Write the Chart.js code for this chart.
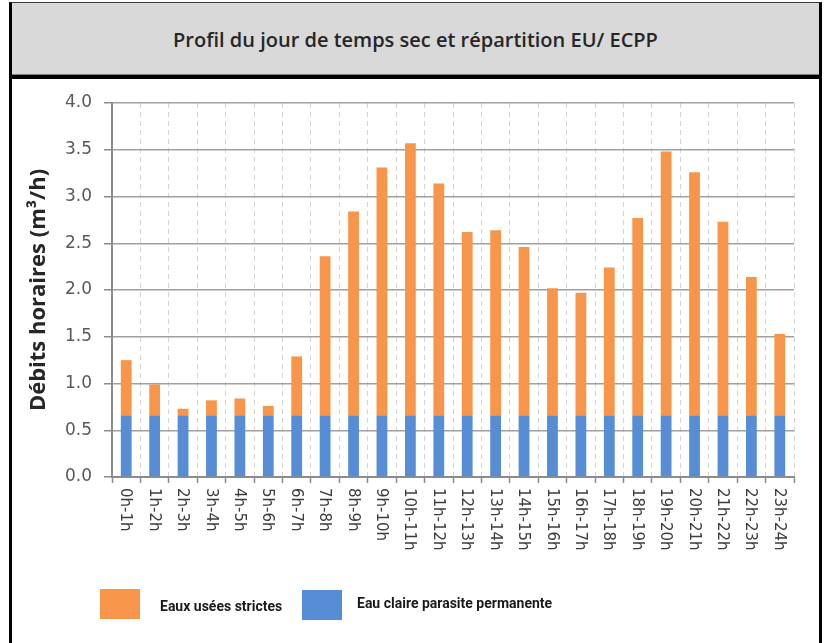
<!DOCTYPE html>
<html lang="fr">
<head>
<meta charset="utf-8">
<title>Profil du jour de temps sec</title>
<script src="https://cdn.jsdelivr.net/npm/chart.js@4.4.1/dist/chart.umd.min.js"></script>
<style>
  html, body { margin: 0; padding: 0; background: #fff; }
  body { width: 826px; height: 643px; position: relative; overflow: hidden; font-family: 'Open Sans', sans-serif; }
  #frame { position: absolute; left: 9px; top: 2px; width: 807px; height: 700px;
           border-left: 3px solid #000; border-right: 3px solid #000; border-top: 1px solid #3a3a3a; }
  #head { position: absolute; left: 0; top: 0; width: 807px; height: 71px; background: #d9d9d9;
          border-bottom: 1px solid #7f7f7f; text-align: center; line-height: 74px;
          font-size: 20px; font-weight: 600; color: #262626; }
  #band { position: absolute; left: 0; top: 72px; width: 807px; height: 4px; background: #000; }
  #wrap { position: absolute; left: 0; top: 76px; width: 807px; height: 564px; }
  .key { position: absolute; width: 40px; height: 30px; }
  .txt { position: absolute; font-family: Roboto, sans-serif; font-size: 14px; font-weight: 700;
         color: #1a1a1a; line-height: 20px; white-space: nowrap; }
</style>
</head>
<body>
<div id="frame">
  <div id="head">Profil du jour de temps sec et répartition EU/ ECPP</div>
  <div id="band"></div>
  <div id="wrap"><canvas id="profil" width="807" height="564"></canvas></div>
</div>
<div class="key" style="left:100px; top:589px; background:#f7964a;"></div>
<div class="txt" style="left:160px; top:596px;">Eaux usées strictes</div>
<div class="key" style="left:302px; top:590px; background:#568dd4;"></div>
<div class="txt" style="left:357px; top:593px;">Eau claire parasite permanente</div>

<script>
// tranches horaires
const hours = ['0h-1h', '1h-2h', '2h-3h', '3h-4h', '4h-5h', '5h-6h', '6h-7h', '7h-8h',
  '8h-9h', '9h-10h', '10h-11h', '11h-12h', '12h-13h', '13h-14h', '14h-15h', '15h-16h',
  '16h-17h', '17h-18h', '18h-19h', '19h-20h', '20h-21h', '21h-22h', '22h-23h', '23h-24h'];

// eau claire parasite permanente (m3/h)
const ecpp = [0.66, 0.66, 0.66, 0.66, 0.66, 0.66, 0.66, 0.66, 0.66, 0.66, 0.66, 0.66,
  0.66, 0.66, 0.66, 0.66, 0.66, 0.66, 0.66, 0.66, 0.66, 0.66, 0.66, 0.66];

// eaux usées strictes (m3/h), au-dessus de l'ECPP
const eu = [0.59, 0.33, 0.07, 0.16, 0.18, 0.10, 0.63, 1.70, 2.18, 2.65, 2.91, 2.48,
  1.96, 1.98, 1.80, 1.36, 1.31, 1.58, 2.11, 2.82, 2.60, 2.07, 1.48, 0.87];

const yMin = 0, yMax = 4, yStep = 0.5;

// libellés horaires écrits de haut en bas sous l'axe
const hourLabels = {
  id: 'hourLabels',
  afterDraw(chart) {
    const x = chart.scales.x;
    const ctx = chart.ctx;
    ctx.save();
    ctx.font = '15px "DejaVu Sans"';
    ctx.fillStyle = '#3c3c3c';
    ctx.textAlign = 'left';
    ctx.textBaseline = 'middle';
    hours.forEach((h, i) => {
      ctx.save();
      ctx.translate(x.getPixelForValue(i) - 1, x.top + 11);
      ctx.rotate(Math.PI / 2);
      ctx.fillText(h, 0, 0);
      ctx.restore();
    });
    ctx.restore();
  }
};

new Chart(document.getElementById('profil'), {
  type: 'bar',
  data: {
    labels: hours,
    datasets: [
      { label: 'Eau claire parasite permanente', data: ecpp, backgroundColor: '#568dd4',
        barPercentage: 0.38, categoryPercentage: 1 },
      { label: 'Eaux usées strictes', data: eu, backgroundColor: '#f7964a',
        barPercentage: 0.38, categoryPercentage: 1 }
    ]
  },
  options: {
    responsive: false,
    animation: false,
    layout: { padding: { left: 0, right: 25, top: 24, bottom: 66 } },
    plugins: { legend: { display: false }, tooltip: { enabled: false } },
    scales: {
      x: {
        stacked: true,
        afterFit(scale) { scale.height = 100; },
        ticks: { display: false },
        grid: { color: '#d4d4d4', lineWidth: 1, tickColor: '#8c8c8c', tickLength: 6, tickWidth: 1.5 },
        border: { color: '#8c8c8c', width: 2, dash: [5, 4] }
      },
      y: {
        stacked: true,
        min: yMin,
        max: yMax,
        afterFit(scale) { scale.width = 100; },
        ticks: {
          stepSize: yStep,
          padding: 12,
          color: '#595959',
          font: { family: 'DejaVu Sans', size: 17 },
          callback: v => v.toFixed(1)
        },
        grid: { color: '#a0a0a0', lineWidth: 1.5, tickColor: '#8c8c8c', tickLength: 8 },
        border: { color: '#8c8c8c', width: 2 },
        title: {
          display: true,
          text: 'Débits horaires (m³/h)',
          color: '#262626',
          font: { family: 'Open Sans', size: 22, weight: '700' },
          padding: { top: 14, bottom: 4 }
        }
      }
    }
  },
  plugins: [hourLabels]
});
</script>
</body>
</html>
